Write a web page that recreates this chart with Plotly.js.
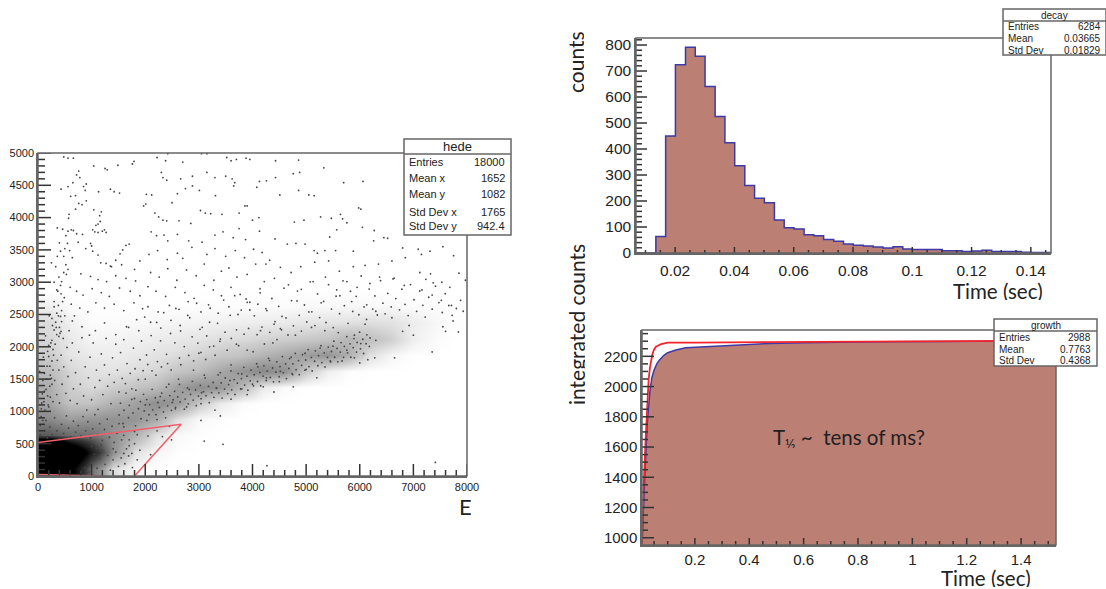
<!DOCTYPE html>
<html><head><meta charset="utf-8">
<script src="https://cdn.plot.ly/plotly-3.0.1.min.js"></script>
<style>html,body{margin:0;padding:0;background:#fff}#c{width:1106px;height:589px}</style>
</head><body><div id="c"></div>
<script>
// ---------- hede: cell counts read by eye, cells 400 wide x 250 tall ----------
const hedeCellX = [200,600,1000,1400,1800,2200,2600,3000,3400,3800,4200,4600,5000,5400,5800,6200,6600,7000,7400,7800];
const hedeCellY = [125,375,625,875,1125,1375,1625,1875,2125,2375,2625,2875];
const hedeCounts = [
 [900,560,190,35,6,1,0,0,0,0,0,0,0,0,0,0,0,0,0,0],
 [1500,800,400,130,30,8,2,0,0,0,0,0,0,0,0,0,0,0,0,0],
 [240,200,190,130,85,30,6,2,0,0,0,0,0,0,0,0,0,0,0,0],
 [140,110,120,125,120,95,30,6,2,0,0,0,0,0,0,0,0,0,0,0],
 [100,62,62,85,105,130,115,55,20,4,0,0,0,0,0,0,0,0,0,0],
 [90,48,36,48,60,70,105,130,120,75,20,5,0,0,0,0,0,0,0,0],
 [70,40,28,28,34,40,60,70,95,120,140,125,55,15,3,0,0,0,0,0],
 [50,26,20,18,22,28,34,44,55,62,80,95,110,120,85,30,8,1,0,0],
 [40,22,10,12,14,18,22,26,32,36,42,48,54,62,78,66,46,16,4,0],
 [34,14,4,4,6,8,10,12,14,16,18,20,24,26,28,32,28,18,8,2],
 [16,5,0,0,0,1,1,2,2,3,4,4,6,6,8,6,6,4,3,1],
 [0,0,0,0,0,0,0,0,0,0,0,0,0,0,0,0,0,0,0,0]
];
// individually visible dots, positions
const hedeDotsUpperLeft = [[480,4940],[560,4920],[660,4920],[760,4720],[720,4660],[780,4620],[650,4540],[560,4480],[430,4440],[850,4480],[900,4520],[880,4420],[1040,4800],[1250,4760],[1290,4740],[1490,4810],[1790,4870],[1760,4830],[1520,4380],[1420,4400],[1350,4440],[1130,4400],[700,4340],[610,4330],[900,4260],[820,4200],[760,4220],[700,4130],[1040,4120],[1180,4090],[1150,4030],[580,4050],[570,3990],[1160,3940],[1120,3900],[1080,3880],[1020,3810],[1060,3780],[1120,3770],[1200,3790],[1240,3810],[1270,3770],[360,3840],[460,3820],[560,3790],[620,3810],[660,3800],[520,3720],[720,3750],[830,3740],[750,3620],[980,3600],[1000,3560],[550,3600],[400,3610],[500,3520],[590,3490],[420,3480],[360,3400],[480,3400],[640,3380],[890,3520],[1020,3480],[1120,3420],[1700,3590],[1640,3570],[1580,3500],[1530,3440],[1450,3340],[1370,3240],[1170,3300],[1270,3290],[1350,3250],[1560,3270],[1800,3200],[1900,3330],[250,3300],[330,3240],[520,3270],[560,3200],[480,3150],[390,3080],[440,3010],[300,3000],[800,3130],[980,3090],[1120,3040],[1280,3010],[1450,3100],[1640,3060],[1820,3020],[350,2880],[430,2820],[490,2760],[600,2920],[720,2860],[840,2800],[1010,2900],[1180,2840],[1330,2780],[1520,2910],[1720,2860],[1900,2790],[300,2700],[380,2640],[440,2560],[350,2520],[420,2470],[260,2440],[620,2660],[780,2600],[930,2540],[1080,2680],[1240,2600],[1420,2660],[1600,2560],[1790,2680],[1950,2590],[330,2380],[400,2300],[300,2260],[430,2240],[350,2190],[390,2160],[260,2100],[200,2020],[280,1960],[640,2400],[820,2310],[960,2180],[1070,2250],[1240,2370],[1450,2190],[1650,2310],[1880,2250],[200,1850],[260,1780],[220,1700],[280,1640],[230,1560],[160,1500],[90,1480],[260,1420],[120,1310],[180,1240],[70,1130],[200,1070],[130,1020],[60,920],[150,860],[40,780]];
const hedeDotsUpperMid = [[2220,4930],[2380,4880],[2420,4990],[2700,4860],[3050,4990],[3150,4990],[3520,4930],[3600,4880],[3700,4900],[3880,4920],[3950,4900],[2300,4700],[2330,4620],[2400,4580],[2660,4600],[2880,4640],[3150,4700],[3300,4620],[3500,4640],[3620,4600],[3670,4540],[3650,4490],[3310,4340],[3010,4420],[2880,4490],[2750,4450],[2600,4370],[2500,4230],[2020,4360],[2120,4350],[2010,4210],[1970,4180],[2180,4070],[2250,4010],[2330,3960],[2400,3950],[2630,3950],[2850,3910],[3030,4110],[3120,4070],[3220,4060],[3430,4050],[3750,3830],[3750,4070],[3860,4180],[3900,4180],[4120,4000],[4000,3960],[2210,3720],[2110,3780],[2350,3730],[2420,3640],[2600,3740],[2810,3640],[3060,3620],[3300,3730],[3450,3780],[3640,3690],[3870,3660],[4130,3790],[2070,3430],[2230,3490],[2410,3350],[2600,3450],[2700,3370],[2870,3540],[3150,3430],[3300,3520],[3500,3400],[3680,3490],[3850,3380],[4020,3510],[4180,3460],[4250,3280],[4320,3340],[2100,3150],[2260,3080],[2420,3210],[2590,3030],[2770,3190],[2950,3100],[3100,3280],[3280,3030],[3420,3170],[3560,3220],[3710,3080],[3900,3120],[4060,3280],[4220,3010],[2050,2930],[2200,2860],[2380,2780],[2560,2920],[2740,2840],[2910,2750],[3100,2950],[3270,2880],[3420,2790],[3600,2920],[3770,2810],[3880,2740],[3950,2690],[4140,2900],[2050,2620],[2240,2540],[2450,2640],[2630,2580],[2800,2700],[3040,2540],[3180,2650],[3360,2520],[3560,2620],[3730,2500],[3950,2570],[4100,2660],[4250,2590],[2100,2380],[2290,2290],[2480,2410],[2650,2330],[2830,2450],[3020,2270],[3200,2380]];
const hedeDotsUpperRight = [[4430,4880],[4860,4890],[4880,4700],[4760,4680],[4430,4620],[5330,4770],[4860,4420],[5050,4350],[4510,4350],[4260,4570],[4130,4560],[4080,4470],[5150,4340],[5700,4540],[6060,4560],[5640,4050],[5980,4150],[6020,4130],[5680,3980],[5760,3920],[6050,3850],[4780,3930],[4960,3960],[5270,4010],[5470,3990],[6270,3800],[5440,3700],[5570,3810],[4420,3670],[4650,3590],[4810,3600],[4980,3590],[5150,3490],[5210,3450],[5350,3490],[5550,3490],[5880,3480],[6260,3640],[6450,3690],[6520,3680],[6800,3530],[7090,3510],[7310,3480],[7550,3550],[7750,3410],[7150,3430],[6850,3380],[6600,3330],[6350,3280],[6100,3260],[5880,3240],[5620,3170],[5420,3330],[5160,3310],[4900,3240],[4720,3150],[4520,3230],[4410,3060],[4670,2960],[4910,2890],[5130,3010],[5360,3080],[5570,2880],[5760,3010],[5950,2920],[6190,2980],[6370,3080],[6620,3050],[6830,2950],[7120,3150],[7320,3130],[7370,2990],[7530,3000],[7680,2920],[7850,3140],[7970,3030],[7160,2880],[7350,2800],[7520,2720],[7710,2640],[7880,2720],[7930,2550],[7740,2400],[7550,2310],[7220,2460],[6920,2330],[6800,2240],[6600,2450],[6300,2550],[6130,2650],[5850,2700],[5630,2790],[5280,2680],[5050,2540],[4830,2710],[4550,2470],[4420,2390],[7350,1920],[6650,1830],[6280,1830],[6150,1800],[6000,1750],[7840,2230],[7600,2240],[7000,2180]];
const hedeDotsBand = [[3000,1900],[3200,2000],[3400,2120],[3700,2040],[3900,1950],[4150,2250],[4380,2060],[4520,2280],[4800,2180],[5100,2300],[5350,2250],[5600,2220],[5900,2180],[6100,2350],[6300,2100],[2000,1500],[2200,1560],[2440,1420],[2620,1500],[2900,1640],[3100,1560],[3400,1600],[3600,1720],[3800,1580],[4100,1690],[4300,1820],[4520,1620],[4720,1840],[4980,1900],[5260,1980],[5500,2010],[5760,1950],[6020,2050],[1800,1200],[2000,1100],[2280,1230],[2520,1180],[2820,1340],[3050,1290],[3330,1360],[3580,1480],[3800,1350],[4000,1420],[4260,1520],[4500,1460],[4750,1570],[5000,1650],[5200,1520],[5450,1780],[5670,1780],[5900,1830],[2030,860],[2200,950],[2380,900],[2560,1040],[2770,1070],[3040,1120],[3300,1020],[3600,1190],[3900,1260],[4200,1380],[4400,1300],[4760,1380],[1600,760],[1800,690],[2050,620],[2220,700],[2450,770],[1400,420],[1600,350],[1700,470],[1850,250],[2100,330],[2320,610],[2490,560],[3100,540],[3450,490],[4270,160],[7410,210],[3040,860],[3400,930]];
const hedeDotsBandCore = [[1512,944],[1538,1127],[1585,813],[1603,1018],[1641,1283],[1688,902],[1702,1094],[1749,1186],[1771,977],[1818,776],[1825,1329],[1873,1041],[1909,1152],[1922,886],[1968,1264],[1981,1007],[2027,1183],[2069,948],[2083,1106],[2128,1342],[2141,1025],[2187,1211],[2219,873],[2236,1138],[2262,1062],[2308,1284],[2341,993],[2355,1167],[2394,1376],[2417,1087],[2458,1245],[2489,1016],[2504,1139],[2547,1311],[2565,1063],[2606,1224],[2638,1417],[2651,1146],[2697,1295],[2729,1034],[2744,1191],[2786,1363],[2802,1117],[2845,1262],[2878,1466],[2893,1176],[2938,1333],[2951,1088],[2993,1238],[3027,1404],[3042,1197],[3086,1305],[3118,1516],[3133,1243],[3179,1386],[3194,1135],[3238,1292],[3266,1447],[3281,1218],[3326,1358],[3359,1564],[3373,1287],[3416,1441],[3433,1206],[3479,1346],[3492,1517],[3537,1276],[3554,1415],[3598,1627],[3612,1334],[3657,1493],[3673,1263],[3718,1437],[3733,1586],[3779,1347],[3792,1508],[3838,1683],[3853,1407],[3897,1546],[3914,1328],[3958,1474],[3973,1639],[4018,1396],[4032,1567],[4077,1738],[4093,1463],[4138,1604],[4153,1397],[4197,1547],[4213,1706],[4256,1478],[4274,1624],[4318,1787],[4332,1526],[4376,1672],[4392,1458],[4437,1607],[4454,1768],[4498,1536],[4513,1694],[4557,1848],[4573,1597],[4617,1736],[4633,1508],[4678,1664],[4692,1818],[4737,1586],[4753,1737],[4798,1897],[4813,1646],[4858,1787],[4872,1568],[4917,1714],[4933,1879],[4978,1638],[4992,1796],[5038,1956],[5053,1694],[5097,1836],[5113,1627],[5158,1776],[5172,1938],[5218,1707],[5232,1864],[5277,2018],[5293,1756],[5338,1906],[5352,1688],[5398,1837],[5413,1996],[5457,1766],[5472,1927],[5518,2087],[5532,1838],[5577,1976],[5592,1767],[5638,1918],[5652,2066],[5698,1837],[5713,2008],[5758,2157],[5772,1906],[5818,2046],[5833,1838],[5877,1986],[5893,2127],[5938,1918],[5952,2067],[5998,2226],[6013,1968],[6058,2117],[6072,1896],[6118,2047],[6133,2186],[6178,2006],[6192,2137]];
const hedeDotsPlume = [[30,1620],[60,1040],[80,1270],[100,1840],[110,1150],[120,1590],[140,2170],[150,1340],[170,1700],[180,1930],[190,1100],[210,2480],[220,1390],[230,1220],[240,2060],[250,1510],[270,2330],[280,1150],[290,1870],[300,2620],[310,1480],[320,2040],[340,2300],[350,1260],[360,1790],[370,2860],[380,2480],[390,1640],[400,1130],[410,2210],[420,2950],[430,1870],[440,2390],[450,1420],[460,2700],[470,2130],[480,1690],[500,2480],[520,1280],[530,3120],[540,1990],[560,1540],[580,2250],[600,1170],[620,1790],[640,2060],[660,1350],[680,2480],[700,1600],[730,1120],[760,1920],[790,1420],[820,2140],[850,1240],[880,1690],[910,1020],[940,1520],[970,1840],[1000,1180],[1030,2060],[1060,1370],[1090,1640],[1120,1030],[1150,1480],[1180,1890],[1210,1260],[1240,1720],[1270,2130],[1300,1390],[1330,1570],[1360,1120],[1390,1830],[1420,1450],[1450,2040],[1480,1640],[1510,1300],[1540,1910],[1570,1510],[1600,2110],[1630,1430],[1660,1740],[1690,2300],[1720,1590],[1750,1350],[1780,1980],[1810,1660],[1840,2420],[1870,1490],[1900,1800],[1930,2090],[1960,1630],[1990,2460],[2024,1873],[2047,1726],[2109,2174],[2126,1628],[2168,1953],[2213,2377],[2227,1772],[2286,2093],[2302,1689],[2345,2528],[2397,1883],[2416,1741],[2471,2206],[2483,1642],[2552,2061],[2571,2593],[2638,1827],[2659,2246],[2664,1722],[2728,2003],[2793,2486],[2811,1866],[2874,2154],[2902,1783],[2958,2674],[2981,2058],[3039,1913],[3062,2301],[3127,1804],[3146,2168],[3211,2597],[3277,2011],[3302,1869],[3348,2364],[3391,2084],[3462,2723],[3488,2226],[3526,1948],[3583,2487],[3604,2129],[3668,2792],[3702,2263],[3741,2017],[3789,2568],[3843,2196],[3901,2688],[3927,2284],[4012,1923],[4034,2479],[4086,2188],[4143,2836],[4176,2305],[4221,2043],[4268,2561],[4322,2224],[4361,2748],[4403,2351],[4457,2112],[4489,2626],[4541,2262],[4587,2907],[4624,2447],[4662,2183],[4729,2716],[4763,2324],[4838,2862],[4871,2487],[4912,2243],[4968,2647],[5012,2385],[5077,3006],[5106,2541],[5164,2329],[5213,2818],[5252,2453],[5327,2702],[5371,2376],[5418,2961],[5473,2584],[5506,2297],[5559,2783],[5624,2512],[5688,3022],[5713,2637],[5782,2364],[5827,2860],[5869,2548],[5933,2782],[5984,2496],[6027,3096],[6081,2617],[6127,2423],[6176,2894],[6242,2584],[6283,2788],[6327,2492],[6388,3024],[6432,2676],[6474,2511],[6523,2827],[6587,2618],[6641,3062],[6673,2746],[6742,2573],[6786,2891],[6844,2656],[6903,2484],[6947,2963],[7012,2728],[7061,2549],[7118,2864],[7177,2642],[7233,3044],[7286,2767],[7351,2583],[7412,2938],[7476,2684],[7538,2531],[7594,2822],[7661,2639],[7723,2487],[7802,2593]];
const hedeDotsLowerLeft = [[40,640],[90,860],[130,700],[170,590],[220,760],[260,640],[310,900],[350,700],[390,580],[440,800],[480,660],[530,930],[570,740],[610,610],[660,850],[700,680],[750,780],[800,620],[840,920],[890,700],[930,840],[980,590],[1020,730],[1060,950],[1110,640],[1150,810],[1200,550],[1240,720],[1290,880],[1330,600],[1380,770],[1420,520],[1470,660],[1510,810],[1560,560],[1600,630],[1650,420],[1700,560],[1750,350],[1800,500],[1850,640],[1900,400],[1000,210],[1050,340],[1100,120],[1150,270],[1200,400],[1250,180],[1300,320],[1350,90],[1400,250],[1450,370],[1500,150],[1550,280],[1620,190],[1690,310],[1760,130],[1000,460],[1090,430],[1180,480],[800,60],[880,130],[960,60]];
const cutLineX = [0,2670,1800];
const cutLineY = [520,800,0];
const cutBaseX = [0,900,1220];
const cutBaseY = [25,0,0];

// ---------- decay histogram ----------
const decayEdges = [0.0068,0.0101,0.0135,0.0168,0.0201,0.0235,0.0268,0.0301,0.0335,0.0368,0.0401,0.0435,0.0468,0.0501,0.0535,0.0568,0.0601,0.0635,0.0668,0.0701,0.0735,0.0768,0.0801,0.0835,0.0868,0.0901,0.0935,0.0968,0.1001,0.1035,0.1068,0.1101,0.1135,0.1168,0.1201,0.1235,0.1268,0.1301,0.1335,0.1368,0.1401,0.1435,0.1468];
const decayCounts = [0,0,63,450,724,791,757,640,525,424,336,260,211,193,127,97,92,70,66,52,45,35,30,27,23,19,24,15,13,13,13,9,9,6,8,11,6,6,6,3,2,2,2];

// ---------- growth curves ----------
const growthTime = [0.0055,0.008,0.012,0.018,0.0247,0.03,0.035,0.042,0.05,0.06,0.07,0.085,0.1,0.13,0.166,0.22,0.281,0.37,0.474,0.6,0.73,0.878,1.1,1.3,1.5285];
const growthBlue = [952,1080,1227,1500,1756,1880,1976,2060,2110,2150,2176,2205,2224,2242,2257,2262,2268,2278,2285,2290,2294,2297,2298,2300,2302];
const fitTime = [0.0055,0.008,0.012,0.018,0.025,0.03,0.035,0.044,0.05,0.057,0.076,0.1,0.2,0.474,0.8,1.2,1.3,1.5285];
const fitRed = [952,1130,1358,1622,1930,2050,2128,2215,2245,2263,2281,2290,2291,2294,2295,2299,2303,2303];

const W = 1106, H = 589;
const px = x => x / W, py = y => 1 - y / H;
const axisInk = '#666', labelInk = '#222', tickInk = '#333';
function axis(dx, dy, isX, range, dtick, size, standoff) {
  const a = {
    domain: isX ? [px(dx[0]), px(dx[1])] : [py(dy[1]), py(dy[0])],
    range, dtick, ticks: '',
    showline: true, linecolor: axisInk, linewidth: 1.5, showgrid: false, zeroline: false,
    tickfont: {family: 'Liberation Sans', size, color: labelInk}
  };
  if (standoff) a.ticklabelstandoff = standoff;
  return a;
}
const scatX = [38, 467], scatY = [153, 476];
const decX = [636, 1051], decY = [38, 253];
const groX = [642, 1056], groY = [330, 545];
const ax = (a, an) => Object.assign(a, {anchor: an});

const allDots = [...hedeDotsUpperLeft, ...hedeDotsUpperMid, ...hedeDotsUpperRight, ...hedeDotsBand, ...hedeDotsBandCore, ...hedeDotsPlume, ...hedeDotsLowerLeft];

const data = [
 {type: 'heatmap', x: hedeCellX, y: hedeCellY, z: hedeCounts, zsmooth: 'best', zmin: 0, zmax: 500, showscale: false, hoverinfo: 'skip',
  colorscale: [[0,'#ffffff'],[0.1,'#cccccc'],[0.24,'#959595'],[0.6,'#3a3a3a'],[1,'#000000']], xaxis: 'x', yaxis: 'y'},
 {type: 'scatter', mode: 'markers', x: allDots.map(d => d[0]), y: allDots.map(d => d[1]), marker: {size: 1.8, color: '#444'}, xaxis: 'x', yaxis: 'y', showlegend: false},
 {type: 'scatter', mode: 'lines', x: cutLineX, y: cutLineY, line: {color: '#f0606a', width: 1.5}, xaxis: 'x', yaxis: 'y', showlegend: false},
 {type: 'scatter', mode: 'lines', x: cutBaseX, y: cutBaseY, line: {color: '#f0606a', width: 1.5}, xaxis: 'x', yaxis: 'y', showlegend: false},
 {type: 'scatter', mode: 'lines', x: decayEdges, y: decayCounts, line: {shape: 'hv', color: '#3d3aa6', width: 1.5}, fill: 'tozeroy', fillcolor: '#bc7f73', xaxis: 'x2', yaxis: 'y2', showlegend: false},
 {type: 'scatter', mode: 'lines', x: growthTime, y: growthBlue, line: {color: '#3d3aa6', width: 1.5}, fill: 'tozeroy', fillcolor: '#bc7f73', xaxis: 'x3', yaxis: 'y3', showlegend: false},
 {type: 'scatter', mode: 'lines', x: fitTime, y: fitRed, line: {color: '#f5232b', width: 1.8}, xaxis: 'x3', yaxis: 'y3', showlegend: false}
];

// inside tick marks drawn as one line trace per tick on each axis pair
function tickTrace(xid, yid, xRange, yRange, xBox, yBox, xStep, xEvery, xMajor, xMinor, yStep, yEvery, yMajor, yMinor) {
  const perPxY = (yRange[1] - yRange[0]) / (yBox[1] - yBox[0]);
  const perPxX = (xRange[1] - xRange[0]) / (xBox[1] - xBox[0]);
  const add = (xs, ys) => data.push({type:'scatter', mode:'lines', x:xs, y:ys, xaxis:xid, yaxis:yid, line:{color:tickInk, width:1.5}, hoverinfo:'skip', showlegend:false, cliponaxis:false});
  for (let k = Math.ceil(xRange[0] / xStep - 1e-9); k * xStep <= xRange[1] + 1e-9; k++) {
    const len = k % xEvery === 0 ? xMajor : xMinor;
    add([k * xStep, k * xStep], [yRange[0], yRange[0] + len * perPxY]);
  }
  for (let k = Math.ceil(yRange[0] / yStep - 1e-9); k * yStep <= yRange[1] + 1e-9; k++) {
    const len = k % yEvery === 0 ? yMajor : yMinor;
    add([xRange[0], xRange[0] + len * perPxX], [k * yStep, k * yStep]);
  }
}
tickTrace('x','y',[0,8000],[0,5000],scatX,scatY,200,5,12,6,100,5,13,7);
tickTrace('x2','y2',[0.0068,0.1468],[0,827],decX,decY,0.005,4,6,3,20,5,11,6);
tickTrace('x3','y3',[0.0055,1.5285],[952,2374],groX,groY,0.05,4,7,4,50,4,12,6);

const shapes = [], annotations = [];
function frame(xs, ys) {
  shapes.push({type:'rect', xref:'paper', yref:'paper', x0:px(xs[0]), x1:px(xs[1]), y0:py(ys[1]), y1:py(ys[0]), fillcolor:'rgba(0,0,0,0)', line:{color:axisInk, width:1.5}, layer:'above'});
}
frame(scatX, scatY); frame(decX, decY); frame(groX, groY);
function statBox(x0, y0, x1, y1, titleY, title, rows, lx, rx, fs, titleSize) {
  shapes.push({type:'rect', xref:'paper', yref:'paper', x0:px(x0), x1:px(x1), y0:py(y0), y1:py(y1), fillcolor:'#fff', line:{color:axisInk, width:1.5}, layer:'above'});
  shapes.push({type:'line', xref:'paper', yref:'paper', x0:px(x0), x1:px(x1), y0:py(titleY), y1:py(titleY), line:{color:axisInk, width:1.5}, layer:'above'});
  annotations.push({xref:'paper', yref:'paper', x:px((x0+Math.min(x1,1106))/2), y:py((y0+titleY)/2), text:title, showarrow:false, xanchor:'center', yanchor:'middle', font:{family:'Liberation Sans', size:titleSize, color:labelInk}});
  rows.forEach(r => {
    annotations.push({xref:'paper', yref:'paper', x:px(lx), y:py(r[2]), text:r[0], showarrow:false, xanchor:'left', yanchor:'middle', xshift:-1, font:{family:'Liberation Sans', size:fs, color:labelInk}});
    annotations.push({xref:'paper', yref:'paper', x:px(rx), y:py(r[2]), text:r[1], showarrow:false, xanchor:'right', yanchor:'middle', xshift:1, font:{family:'Liberation Sans', size:fs, color:labelInk}});
  });
}
statBox(404,139,511,235,154,'hede',[['Entries','18000',162],['Mean x','1652',178],['Mean y','1082',194],['Std Dev x','1765',212],['Std Dev y','942.4',226]],408,506,11,13);
statBox(1003,9,1106,55,21,'decay',[['Entries','6284',27],['Mean','0.03665',38.5],['Std Dev','0.01829',50]],1007,1102,10,10);
statBox(994,319,1097,366,331,'growth',[['Entries','2988',337],['Mean','0.7763',349],['Std Dev','0.4368',360]],998,1092,10,10);

function note(x, y, text, size, angle, anchor) {
  annotations.push({xref:'paper', yref:'paper', x:px(x), y:py(y), text, showarrow:false, xanchor:anchor||'center', yanchor:'middle', textangle:angle||0, height:18, borderpad:0, font:{family:'Lato', size, color:'#222'}});
}
note(465, 506, 'E', 22);
note(1044, 291, 'Time (sec)', 20.5, 0, 'right');
note(1032, 578, 'Time (sec)', 20.5, 0, 'right');
note(575, 62, 'counts', 21, -90);
note(576, 325, 'integrated counts', 21, -90);
note(849, 439, 'T<sub>½</sub> ~  tens of ms?', 20.5);

const layout = {
  width: W, height: H, margin: {l:0, r:0, t:0, b:0}, paper_bgcolor:'#fff', plot_bgcolor:'#fff', showlegend:false,
  xaxis: ax(axis(scatX, scatY, true, [0,8000], 1000, 11), 'y'),
  yaxis: ax(axis(scatX, scatY, false, [0,5000], 500, 11), 'x'),
  xaxis2: ax(axis(decX, decY, true, [0.0068,0.1468], 0.02, 15.5, 3), 'y2'),
  yaxis2: ax(axis(decX, decY, false, [0,827], 100, 15.5), 'x2'),
  xaxis3: ax(axis(groX, groY, true, [0.0055,1.5285], 0.2, 15), 'y3'),
  yaxis3: ax(axis(groX, groY, false, [952,2374], 200, 15), 'x3'),
  shapes, annotations
};
Plotly.newPlot('c', data, layout, {displayModeBar:false, responsive:false});
</script></body></html>
